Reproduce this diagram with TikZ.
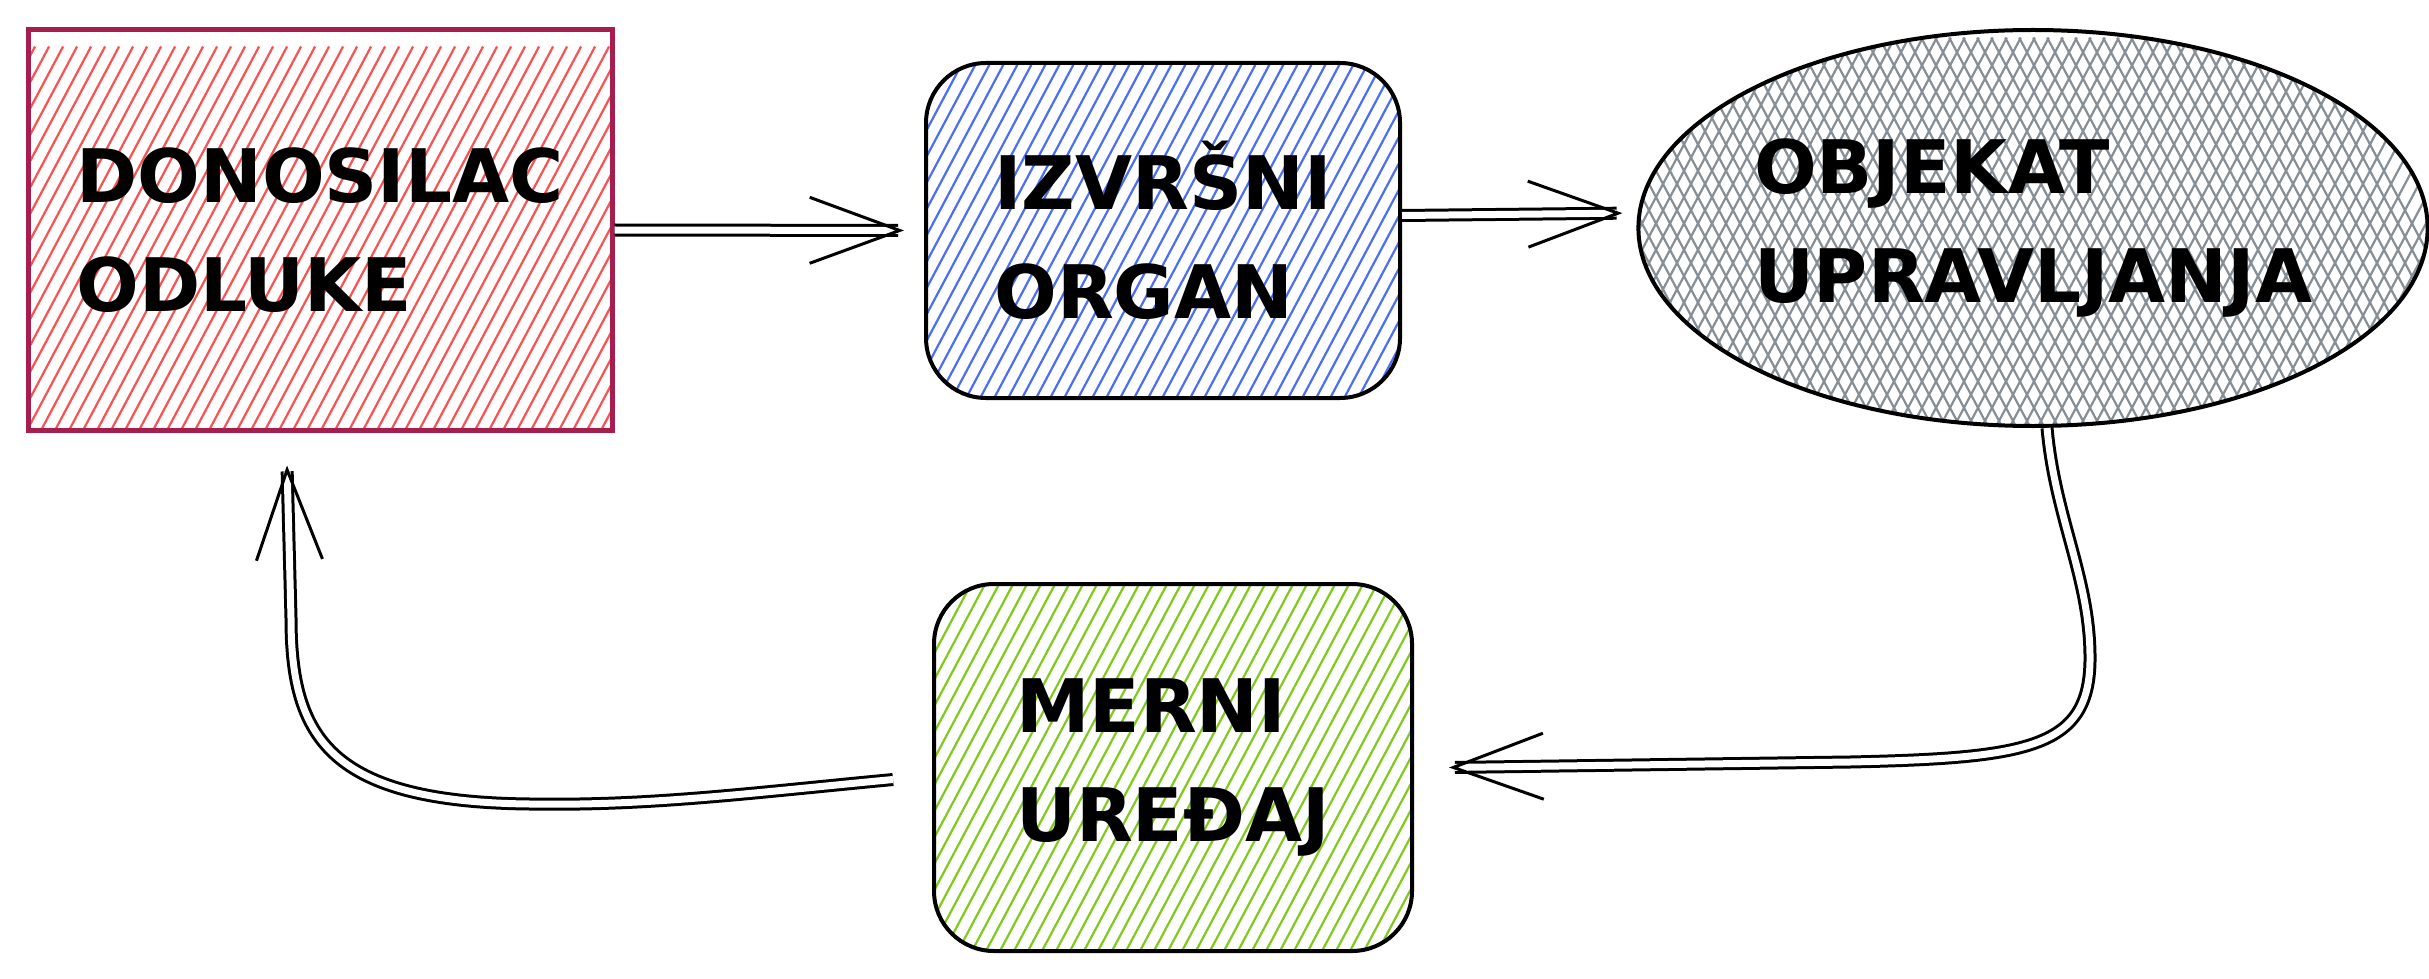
\documentclass[tikz,border=0pt]{standalone}
\usepackage{fontspec}
\setmainfont{DejaVu Sans}
\usetikzlibrary{arrows.meta,shapes.geometric}

\definecolor{redfill}{HTML}{FA5252}
\definecolor{redline}{HTML}{A61E4D}
\definecolor{bluefill}{HTML}{4C6EF5}
\definecolor{grayfill}{HTML}{868E96}
\definecolor{greenfill}{HTML}{82C91E}

% hachure lines, clipped to the node shape
\newcommand{\hatchlines}[2]{%
  \begin{scope}[shift={(path picture bounding box.center)}]
    \foreach \k in {-50,...,50}
      \draw[#1, line width=0.022cm] (\k*0.14,0) ++(#2:-3) -- ++(#2:6);
  \end{scope}}

\tikzstyle{lbl}=[align=left, font=\fontsize{21}{31}\selectfont\bfseries]
\tikzstyle{redbox}=[lbl, draw=redline, line width=0.05cm, minimum width=5.84cm, minimum height=4cm, path picture={\hatchlines{redfill}{62}}]
\tikzstyle{bluebox}=[lbl, draw, line width=0.04cm, rounded corners=0.6cm, minimum width=4.74cm, minimum height=3.35cm, path picture={\hatchlines{bluefill}{62}}]
\tikzstyle{greenbox}=[lbl, draw, line width=0.04cm, rounded corners=0.6cm, minimum width=4.78cm, minimum height=3.67cm, path picture={\hatchlines{greenfill}{62}}]
\tikzstyle{grayoval}=[lbl, ellipse, draw, line width=0.04cm, minimum width=7.34cm, minimum height=3.96cm, inner sep=0pt, path picture={\hatchlines{grayfill}{62}\hatchlines{grayfill}{118}}]
\tikzstyle{conn}=[draw, line width=0.03cm, double, double distance=0.07cm, -{Straight Barb[length=0.9cm,width=0.66cm,line width=0.03cm]}]

\begin{document}
\begin{tikzpicture}
  \useasboundingbox (0,0) rectangle (24.29,9.78);

  \node[redbox] (dm) at (3.20,7.48) {DONOSILAC\\ODLUKE};
  \node[bluebox] (eo) at (11.63,7.475) {IZVRŠNI\\ORGAN};
  \node[grayoval] (obj) at (20.33,7.50) {OBJEKAT\\UPRAVLJANJA};
  \node[greenbox] (mu) at (11.73,2.105) {MERNI\\UREĐAJ};

  \draw[conn, shorten >=0.2cm] (dm.east) -- (eo.west);
  \draw[conn, shorten >=0.14cm] ([yshift=1.5mm]eo.east) -- ([yshift=1.5mm]obj.west);
  \draw[conn] ([xshift=1.4mm]obj.south) .. controls (20.55,4.6) and (20.9,4.0) .. (20.9,3.2)
    .. controls (20.9,2.3) and (20.3,2.2) .. (18.5,2.16) -- ([xshift=3.5mm]mu.east);
  \draw[conn] ([xshift=-3.9mm,yshift=-1.2mm]mu.west) .. controls (7.5,1.85) and (6.5,1.72) .. (5.3,1.74)
    .. controls (3.3,1.76) and (2.91,2.4) .. (2.91,3.6) -- ([xshift=-3.3mm,yshift=-3.3mm]dm.south);
\end{tikzpicture}
\end{document}
